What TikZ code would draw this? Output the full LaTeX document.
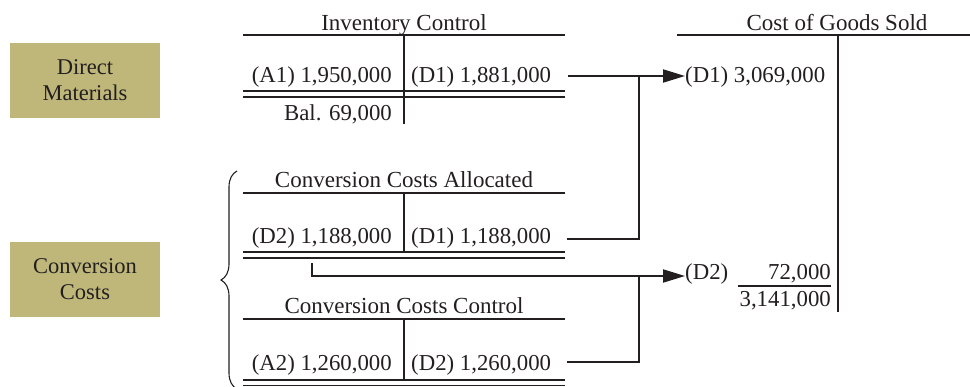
\documentclass[tikz,border=0pt]{standalone}
\usepackage{fontspec}
\setmainfont{Liberation Serif}
\usetikzlibrary{arrows.meta,decorations.pathreplacing}
\definecolor{ink}{HTML}{231F20}
\definecolor{khaki}{HTML}{BFB67A}
\begin{document}
\begin{tikzpicture}[x=1pt,y=-1pt,
  catbox/.style={fill=khaki,minimum width=150pt,minimum height=75pt,inner sep=0pt,align=center,text=ink,font=\fontsize{22.5}{26}\selectfont},
  ttitle/.style={anchor=base,inner sep=0pt,text=ink,font=\fontsize{23}{26}\selectfont},
  dentry/.style={anchor=base east,inner sep=0pt,text=ink,font=\fontsize{22.8}{26}\selectfont},
  centry/.style={anchor=base west,inner sep=0pt,text=ink,font=\fontsize{22.8}{26}\selectfont},
  tline/.style={draw=ink,line width=2pt},
  dline/.style={draw=ink,line width=1.6pt},
  conn/.style={draw=ink,line width=2pt},
  arr/.style={draw=ink,line width=2pt,-{Triangle[length=22pt,width=13pt]}},
]
\useasboundingbox (0,0) rectangle (970,386);

% category boxes
\node[catbox] (dm) at (85,80.5) {Direct\\Materials};
\node[catbox] (cc) at (85,279.5) {Conversion\\Costs};

% Inventory Control
\node[ttitle] (icT) at (404,30) {Inventory Control};
\draw[tline] (243,35) -- (565,35);
\draw[tline] (404,35) -- (404,124);
\draw[dline] (243,91) -- (565,91);
\draw[dline] (243,97) -- (565,97);
\node[dentry] (icA1) at (392,82) {(A1) 1,950,000};
\node[centry] (icD1) at (411,82) {(D1) 1,881,000};
\node[dentry] (icBal) at (392,120) {Bal. 69,000};

% Conversion Costs Allocated
\node[ttitle] (caT) at (404,187) {Conversion Costs Allocated};
\draw[tline] (243,193) -- (565,193);
\draw[tline] (404,193) -- (404,252);
\draw[dline] (243,252) -- (565,252);
\draw[dline] (243,258) -- (565,258);
\node[dentry] (caD2) at (392,243) {(D2) 1,188,000};
\node[centry] (caD1) at (411,243) {(D1) 1,188,000};

% Conversion Costs Control
\node[ttitle] (ccT) at (404,313) {Conversion Costs Control};
\draw[tline] (243,319) -- (565,319);
\draw[tline] (404,319) -- (404,380);
\draw[dline] (243,380) -- (565,380);
\draw[dline] (243,385.5) -- (565,385.5);
\node[dentry] (ccA2) at (392,370) {(A2) 1,260,000};
\node[centry] (ccD2) at (411,370) {(D2) 1,260,000};

% Cost of Goods Sold
\node[ttitle] (cgT) at (837,30) {Cost of Goods Sold};
\draw[tline] (677,35) -- (970,35);
\draw[tline] (838,35) -- (838,312);
\node[centry] (cgD1) at (685,82) {(D1) 3,069,000};
\node[centry] (cgD2) at (685,279) {(D2)};
\node[dentry] (cgAmt) at (831,279) {72,000};
\draw[draw=ink,line width=1.2pt] (738,286) -- (831,286);
\node[dentry] (cgTot) at (831,306) {3,141,000};

% connector coordinates
\coordinate (s1) at (568,76);
\coordinate (j1) at (639,76);
\coordinate (s2) at (567,239);
\coordinate (k2) at (639,239);
\coordinate (s3) at (312,263);
\coordinate (k3) at (312,276);
\coordinate (j2) at (639,276);
\coordinate (s4) at (567,362);
\coordinate (k4) at (639,362);

\draw[conn] (s1) -- (j1);
\draw[arr] (j1) -- (cgD1.west |- j1);
\draw[conn] (s2) -- (k2) -- (j1);
\draw[conn] (s3) -- (k3) -- (j2);
\draw[arr] (j2) -- (cgD2.west |- j2);
\draw[conn] (s4) -- (k4) -- (j2);

% brace
\coordinate (bTop) at (237,171);
\coordinate (bBot) at (237,389);
\draw[draw=ink,line width=1.1pt,decorate,decoration={brace,amplitude=16pt}] (bBot) -- (bTop);
\end{tikzpicture}
\end{document}
